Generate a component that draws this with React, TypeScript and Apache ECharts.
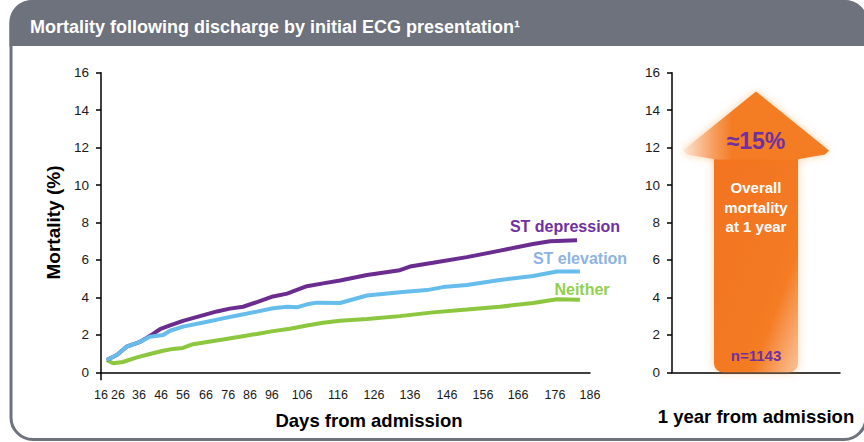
import React, { useEffect, useRef } from "react";
import * as echarts from "echarts";

const FONT = "'Liberation Sans', Arial, sans-serif";

const titleText = "Mortality following discharge by initial ECG presentation¹";

// x tick labels and where they sit along the (linear) day axis
const xTickLabels = ["16", "26", "36", "46", "56", "66", "76", "86", "96", "106", "116", "126", "136", "146", "156", "166", "176", "186"];
const xTickPositions = [16, 21.9, 29.2, 36.9, 44.5, 52.5, 60.2, 67.8, 75.4, 85.9, 98.4, 110.9, 123.4, 136.3, 148.8, 161.0, 173.8, 186];

const seriesNames = ["ST depression", "ST elevation", "Neither"];

const stDepression = [
  [18.0, 0.66], [21.5, 0.92], [24.9, 1.37], [29.6, 1.63], [32.0, 1.85], [34.1, 2.05], [36.5, 2.3], [40.0, 2.5],
  [44.5, 2.75], [50.4, 3.0], [56.3, 3.25], [60.8, 3.4], [65.4, 3.5], [70.2, 3.75], [75.8, 4.05], [80.7, 4.2],
  [84.1, 4.4], [87.6, 4.6], [93.2, 4.75], [99.1, 4.9], [108.5, 5.2], [119.9, 5.45], [123.4, 5.65], [131.4, 5.85],
  [143.2, 6.15], [154.7, 6.5], [166.2, 6.85], [172.1, 7.0], [181.5, 7.05],
];

const stElevation = [
  [18.0, 0.66], [21.5, 0.92], [24.9, 1.37], [29.6, 1.63], [33.0, 1.9], [37.6, 1.99], [40.0, 2.22], [44.5, 2.44],
  [52.9, 2.7], [58.4, 2.88], [64.3, 3.06], [70.2, 3.24], [75.8, 3.42], [80.7, 3.5], [84.1, 3.47], [87.6, 3.63],
  [91.1, 3.72], [99.1, 3.7], [102.5, 3.85], [108.5, 4.1], [119.9, 4.28], [129.3, 4.39], [134.9, 4.55], [143.2, 4.66],
  [154.7, 4.93], [166.2, 5.14], [174.5, 5.38], [182.5, 5.38],
];

const neither = [
  [18.0, 0.66], [20.2, 0.48], [23.6, 0.55], [28.5, 0.8], [33.0, 0.98], [37.6, 1.15], [41.0, 1.25], [44.5, 1.3],
  [48.0, 1.5], [52.9, 1.62], [58.4, 1.75], [64.3, 1.9], [70.2, 2.05], [75.8, 2.2], [81.7, 2.33], [87.6, 2.5],
  [93.2, 2.65], [99.1, 2.75], [108.5, 2.85], [119.9, 3.0], [131.4, 3.2], [143.2, 3.35], [154.7, 3.5], [166.2, 3.7],
  [174.5, 3.9], [182.5, 3.88],
];

const lineColors = ["#6A2C8F", "#66BDEB", "#8DC63F"];
const labelColors = ["#7030A0", "#8DB3E2", "#92D050"];

const overallCategory = ["1 year"];
const overallMortality = [15];
const overallN = "n=1143";

export default function App() {
  const ref = useRef<HTMLDivElement>(null);

  useEffect(() => {
    if (!ref.current) return;
    const chart = echarts.init(ref.current, null, { renderer: "svg" });

    const yAxisCommon = {
      type: "value",
      min: 0,
      max: 16,
      interval: 2,
      splitLine: { show: false },
      axisLine: { show: true, lineStyle: { color: "#000", width: 1.5 } },
      axisTick: { show: true, length: 5, lineStyle: { color: "#000", width: 1.5 } },
      axisLabel: { color: "#1a1a1a", fontSize: 13.5, fontFamily: FONT, margin: 12 },
    };

    const option: any = {
      animation: false,
      backgroundColor: "transparent",
      graphic: [
        {
          type: "rect",
          z: -10,
          shape: { x: 11, y: 1.5, width: 855, height: 438, r: 22 },
          style: { fill: "#fff", stroke: "#6E727D", lineWidth: 3 },
        },
        {
          type: "rect",
          z: -9,
          shape: { x: 9.5, y: 0, width: 858, height: 46, r: [22, 22, 0, 0] },
          style: { fill: "#6E727D" },
        },
        {
          type: "text",
          z: 10,
          style: {
            text: titleText,
            x: 30,
            y: 27,
            verticalAlign: "middle",
            fill: "#fff",
            font: `bold 18px ${FONT}`,
          },
        },
        ...seriesNames.map((n, i) => ({
          type: "text",
          z: 10,
          style: {
            text: n,
            x: [565, 580, 582][i],
            y: [226, 258, 289][i],
            align: "center",
            verticalAlign: "middle",
            fill: labelColors[i],
            font: `bold 16px ${FONT}`,
          },
        })),
      ],
      grid: [
        { left: 101, top: 72.7, width: 489, height: 299.6, containLabel: false },
        { left: 672, top: 72.7, width: 168, height: 299.6, containLabel: false },
      ],
      xAxis: [
        {
          gridIndex: 0,
          type: "value",
          min: 16,
          max: 186,
          splitLine: { show: false },
          axisLine: { show: true, onZero: false, lineStyle: { color: "#000", width: 1.5 } },
          axisTick: { show: true, customValues: [16], length: 8, lineStyle: { color: "#000", width: 1.5 } },
          axisLabel: {
            customValues: xTickPositions,
            color: "#1a1a1a",
            fontSize: 12.5,
            fontFamily: FONT,
            margin: 16,
            formatter: (v: number) => {
              const i = xTickPositions.findIndex((p) => Math.abs(p - v) < 0.01);
              return i >= 0 ? xTickLabels[i] : "";
            },
          },
          name: "Days from admission",
          nameLocation: "middle",
          nameGap: 39,
          nameTextStyle: { color: "#000", fontSize: 18.5, fontWeight: "bold", fontFamily: FONT, padding: [0, 0, 0, 47] },
        },
        {
          gridIndex: 1,
          type: "category",
          data: overallCategory,
          axisLine: { show: true, lineStyle: { color: "#000", width: 1.5 } },
          axisTick: { show: false },
          axisLabel: { show: false },
          name: "1 year from admission",
          nameLocation: "middle",
          nameGap: 35,
          nameTextStyle: { color: "#000", fontSize: 18.5, fontWeight: "bold", fontFamily: FONT },
        },
      ],
      yAxis: [
        {
          gridIndex: 0,
          ...yAxisCommon,
          name: "Mortality (%)",
          nameLocation: "middle",
          nameGap: 36,
          nameTextStyle: { color: "#000", fontSize: 19, fontWeight: "bold", fontFamily: FONT },
        },
        { gridIndex: 1, ...yAxisCommon },
      ],
      series: [
        ...[stDepression, stElevation, neither]
          .map((d, i) => ({
            type: "line",
            name: seriesNames[i],
            xAxisIndex: 0,
            yAxisIndex: 0,
            data: d,
            showSymbol: false,
            smooth: false,
            lineStyle: { color: lineColors[i], width: 4 },
            z: i === 1 ? 4 : 3,
          }))
          .reverse(),
        {
          type: "custom",
          xAxisIndex: 1,
          yAxisIndex: 1,
          data: overallMortality.map((v, i) => [i, v]),
          renderItem: (params: any, api: any) => {
            const tip = api.coord([api.value(0), api.value(1)]);
            const base = api.coord([api.value(0), 0]);
            const cx = tip[0];
            const ty = tip[1];
            const by = base[1];
            const headW = 73;
            const shaftW = 42;
            const shadow = { shadowBlur: 8, shadowColor: "rgba(244,123,34,0.35)" };
            return {
              type: "group",
              children: [
                {
                  type: "rect",
                  shape: { x: cx - shaftW, y: ty + 60, width: shaftW * 2, height: by - ty - 60, r: [0, 0, 9, 9] },
                  style: {
                    fill: new echarts.graphic.LinearGradient(0, 0, 1, 1, [
                      { offset: 0, color: "#F27320" },
                      { offset: 0.72, color: "#F47B22" },
                      { offset: 1, color: "#FAC39B" },
                    ]),
                    ...shadow,
                  },
                },
                {
                  type: "polygon",
                  shape: {
                    points: [
                      [cx, ty],
                      [cx + headW, ty + 59],
                      [cx + headW - 4, ty + 63],
                      [cx + shaftW - 2, ty + 68],
                      [cx - shaftW + 2, ty + 68],
                      [cx - headW + 4, ty + 63],
                      [cx - headW, ty + 59],
                    ],
                  },
                  style: {
                    fill: new echarts.graphic.LinearGradient(0, 0, 1, 0, [
                      { offset: 0, color: "#FDE6D4" },
                      { offset: 0.2, color: "#F7A062" },
                      { offset: 0.34, color: "#F47B22" },
                      { offset: 1, color: "#F47B22" },
                    ]),
                    ...shadow,
                  },
                },
                {
                  type: "text",
                  style: {
                    text: "≈" + api.value(1) + "%",
                    x: cx,
                    y: ty + 50,
                    align: "center",
                    verticalAlign: "middle",
                    fill: "#7030A0",
                    font: `bold 23px ${FONT}`,
                  },
                },
                {
                  type: "text",
                  style: {
                    text: "Overall\nmortality\nat 1 year",
                    x: cx,
                    y: ty + 116,
                    align: "center",
                    verticalAlign: "middle",
                    fill: "#fff",
                    font: `bold 15px ${FONT}`,
                    lineHeight: 19.5,
                  },
                },
                {
                  type: "text",
                  style: {
                    text: overallN,
                    x: cx,
                    y: by - 17,
                    align: "center",
                    verticalAlign: "middle",
                    fill: "#7030A0",
                    font: `bold 15px ${FONT}`,
                  },
                },
              ],
            };
          },
          z: 2,
        },
      ],
    };

    chart.setOption(option);
    return () => chart.dispose();
  }, []);

  return <div ref={ref} style={{ position: "absolute", left: 0, top: 0, width: 864, height: 442 }} />;
}
